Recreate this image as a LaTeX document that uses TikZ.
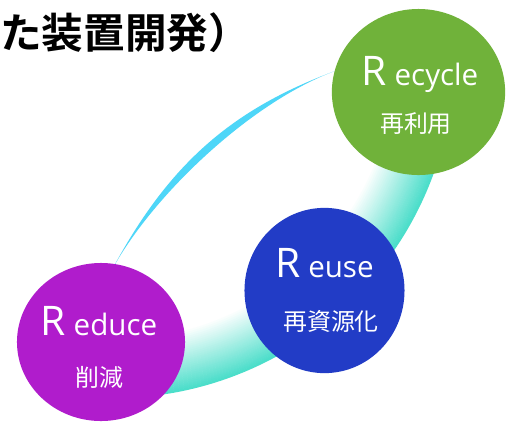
\documentclass[tikz,border=0pt]{standalone}
\usepackage{fontspec}
\newfontfamily\jpfont{Noto Sans CJK JP}
\newfontfamily\jpbold{Noto Sans CJK JP Bold}
\newfontfamily\latfont{Open Sans}
\usetikzlibrary{calc,shapes.geometric}
\definecolor{leafgreen}{RGB}{112,178,58}
\definecolor{deepblue}{RGB}{34,60,198}
\definecolor{rdpurple}{RGB}{176,28,204}
\definecolor{skycyan}{RGB}{78,214,248}
\definecolor{bandteal}{RGB}{76,222,202}
\pgfdeclarelayer{bg}
\pgfsetlayers{bg,main}
\newcommand\Rword[1]{{\fontsize{29}{30}\selectfont R} #1}

\begin{document}
\begin{tikzpicture}[x=0.025cm, y=-0.025cm,
	ball/.style={ellipse, inner sep=0pt, outer sep=0pt},
	tag/.style={text=white, inner sep=0pt, anchor=base}]
	%%%%% START %%%%%
	
	\useasboundingbox (0, 0) rectangle (508, 423);
	
	\node[anchor=west, inner sep=0pt] (title) at (0, 33) {\jpbold\fontsize{29.6}{31}\selectfont た装置開発）};
	
	\node[ball, fill=leafgreen, minimum width=4.33cm, minimum height=4.15cm] (recycle) at (418.5, 92) {};
	\node[ball, fill=deepblue, minimum width=4.0cm, minimum height=4.13cm] (reuse) at (324.5, 290.5) {};
	\node[ball, fill=rdpurple, minimum width=4.2cm, minimum height=3.95cm] (reduce) at (101, 342) {};
	
	\node[tag] (recycle-en) at (420, 85) {\latfont\fontsize{21}{24}\selectfont\Rword{ecycle}};
	\node[tag] (recycle-jp) at (416, 132) {\jpfont\fontsize{17}{20}\selectfont 再利用};
	\node[tag] (reuse-en) at (324.5, 277) {\latfont\fontsize{21}{24}\selectfont\Rword{euse}};
	\node[tag] (reuse-jp) at (331, 330) {\jpfont\fontsize{17}{20}\selectfont 再資源化};
	\node[tag] (reduce-en) at (99, 335) {\latfont\fontsize{21}{24}\selectfont\Rword{educe}};
	\node[tag] (reduce-jp) at (99, 386.5) {\jpfont\fontsize{17}{20}\selectfont 削減};
	
	\begin{pgfonlayer}{bg}
		\fill[white] (0, 0) rectangle (508, 423);
		
		% wide band, white inside to teal outside
		\coordinate (hub) at (113, 57);
		\foreach \i in {0,...,29}{
			\pgfmathsetmacro\rr{282+2*\i}
			\pgfmathsetmacro\pp{100*\i/29}
			\draw[bandteal!\pp!white, line width=1.7pt] ($(hub)+(85:\rr)$) arc (85:15:\rr);
		}
		
		% thin arc reduce -> recycle
		\coordinate (s) at ($(reduce.80)+(-4, 8)$);
		\coordinate (e) at (recycle.166);
		\fill[skycyan] (s) .. controls ($(s)+(57.4, -108.1)$) and ($(e)+(-103.1, 38.4)$) .. (e)
			.. controls ($(e)+(-86.2, 32.1)$) and ($(s)+(39.1, -73.6)$) .. (s);
	\end{pgfonlayer}
	
	%%%%% END %%%%%
\end{tikzpicture}
\end{document}
